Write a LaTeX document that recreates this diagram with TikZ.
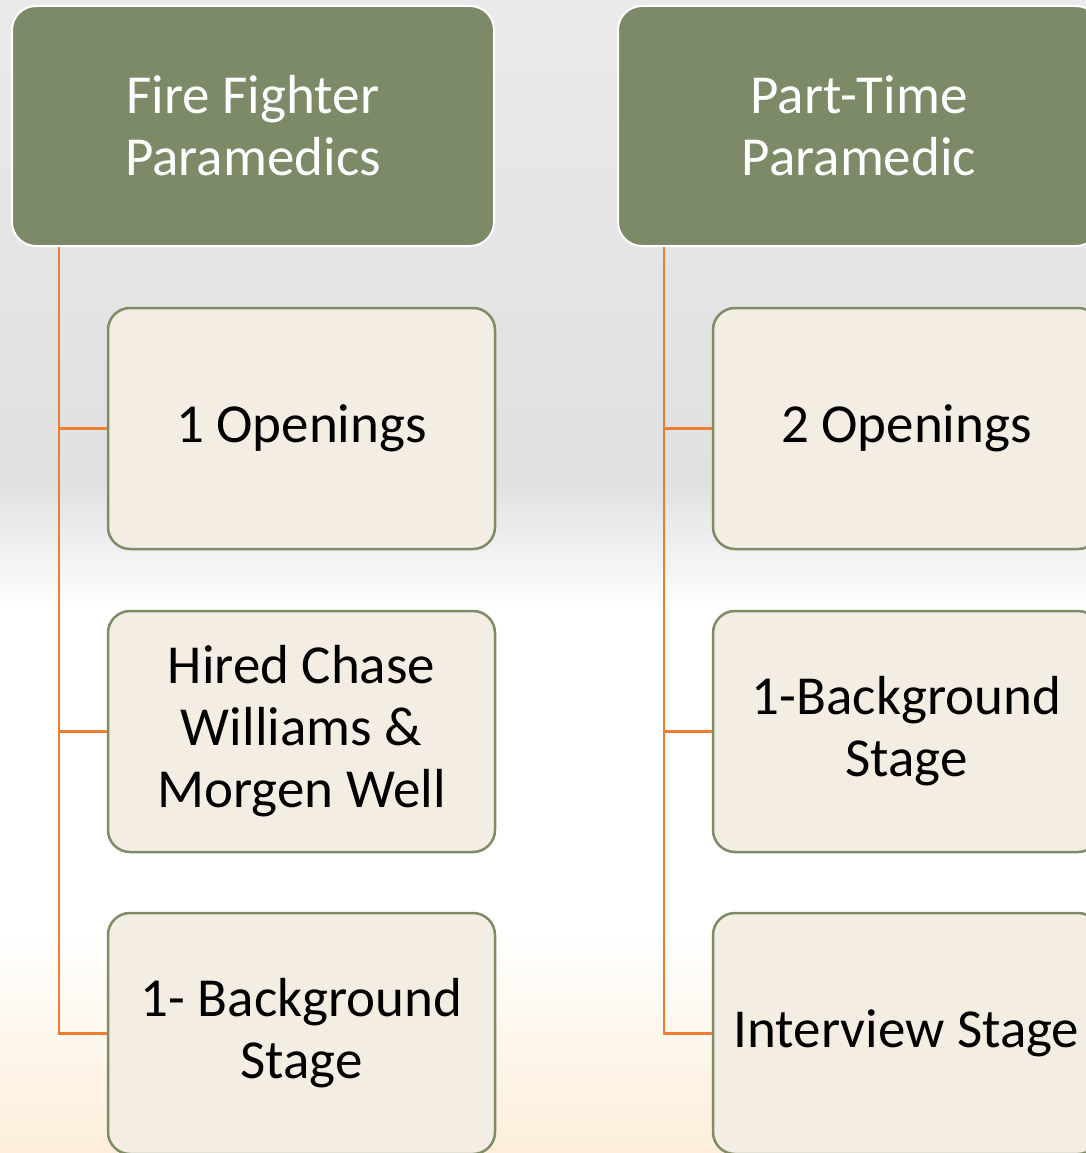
\documentclass[tikz,border=0pt]{standalone}
\usepackage{fontspec}
\setmainfont{Carlito}

\definecolor{hdrgreen}{RGB}{125,138,103}
\definecolor{boxline}{RGB}{127,140,101}
\definecolor{boxfill}{RGB}{243,237,227}
\definecolor{branchorange}{RGB}{237,125,49}
\definecolor{skygray}{RGB}{224,224,224}
\definecolor{skytop}{RGB}{234,234,234}
\definecolor{peach}{RGB}{252,238,218}

\tikzset{
  header/.style={draw=white, line width=2pt, fill=hdrgreen, rounded corners=24pt,
    minimum width=482pt, minimum height=240pt, text=white, align=center,
    font=\fontsize{55}{62}\selectfont},
  item/.style={draw=boxline, line width=2.5pt, fill=boxfill, rounded corners=22pt,
    minimum width=387pt, minimum height=241pt, align=center,
    font=\fontsize{55}{62}\selectfont},
  branch/.style={draw=branchorange, line width=2.5pt}
}

\begin{document}
\begin{tikzpicture}[x=1pt, y=-1pt]
        \useasboundingbox (0, 0) rectangle (1086, 1153);
        \clip (0, 0) rectangle (1086, 1153);

        % backdrop
        \shade[top color=skytop, bottom color=skygray] (0, 0) rectangle (1086, 480);
        \shade[top color=skygray, bottom color=white] (0, 480) rectangle (1086, 610);
        \fill[white] (0, 610) rectangle (1086, 930);
        \shade[top color=white, bottom color=peach] (0, 930) rectangle (1086, 1153);

        % first column
        \node[header] at (253, 126)(ffp){Fire Fighter\\Paramedics};
        \node[item] at (301.5, 428.5)(ff1){1 Openings};
        \node[item] at (301.5, 731.5)(ff2){Hired Chase\\Williams \&\\Morgen Well};
        \node[item] at (301.5, 1033.5)(ff3){1- Background\\Stage};

        % second column
        \node[header] at (859, 126)(ptp){Part-Time\\Paramedic};
        \node[item] at (906.5, 428.5)(pt1){2 Openings};
        \node[item] at (906.5, 731.5)(pt2){1-Background\\Stage};
        \node[item] at (906.5, 1033.5)(pt3){Interview Stage};

        \path[branch]
        ([xshift=48pt]ffp.south west) edge[to path={|- (\tikztotarget)}] (ff1.west)
        ([xshift=48pt]ffp.south west) edge[to path={|- (\tikztotarget)}] (ff2.west)
        ([xshift=48pt]ffp.south west) edge[to path={|- (\tikztotarget)}] (ff3.west)
        ([xshift=47pt]ptp.south west) edge[to path={|- (\tikztotarget)}] (pt1.west)
        ([xshift=47pt]ptp.south west) edge[to path={|- (\tikztotarget)}] (pt2.west)
        ([xshift=47pt]ptp.south west) edge[to path={|- (\tikztotarget)}] (pt3.west)
        ;
    \end{tikzpicture}
\end{document}
